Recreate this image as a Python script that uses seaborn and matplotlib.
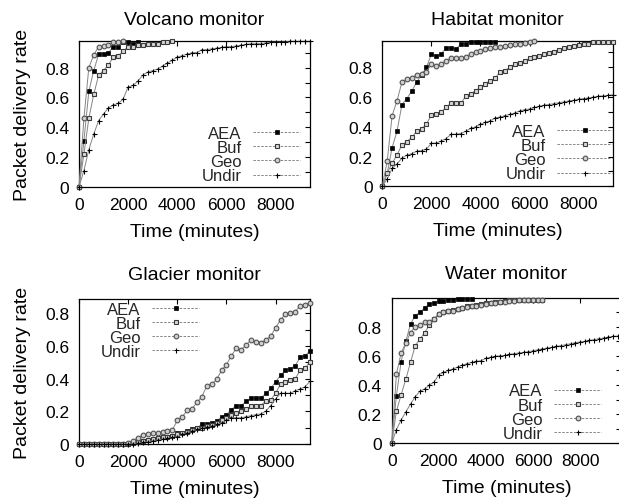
import numpy as np
import matplotlib
matplotlib.use("Agg")
import matplotlib.pyplot as plt
from matplotlib.lines import Line2D
from matplotlib.ticker import MultipleLocator, FuncFormatter
import seaborn as sns

STEP = 200  # minutes between samples

# Volcano monitor
volcano_aea = [0, 0.31, 0.64, 0.78, 0.89, 0.89, 0.90, 0.94, 0.94, 0.97, 0.97, 0.96, 0.97]
volcano_buf = [0, 0.22, 0.46, 0.62, 0.75, 0.78, 0.82, 0.87, 0.88, 0.91, 0.94, 0.94, 0.95,
               0.95, 0.96, 0.96, 0.96, 0.97, 0.97, 0.98]
volcano_geo = [0, 0.46, 0.80, 0.885, 0.94, 0.945, 0.95, 0.97, 0.97, 0.98]
volcano_undir = [0, 0.11, 0.25, 0.355, 0.445, 0.49, 0.53, 0.55, 0.56, 0.59, 0.67, 0.68,
                 0.71, 0.75, 0.77, 0.78, 0.79, 0.81, 0.83, 0.85, 0.87, 0.88, 0.89, 0.90,
                 0.90, 0.92, 0.92, 0.925, 0.93, 0.935, 0.94, 0.94, 0.945, 0.95, 0.955,
                 0.96, 0.96, 0.96, 0.965, 0.97, 0.97, 0.97, 0.97, 0.975, 0.975, 0.975,
                 0.975, 0.975]

# Habitat monitor
habitat_aea = [0, 0.087, 0.26, 0.37, 0.55, 0.59, 0.64, 0.70, 0.75, 0.80, 0.89, 0.875,
               0.89, 0.93, 0.93, 0.925, 0.955, 0.96, 0.97, 0.97, 0.97, 0.97, 0.97, 0.97]
habitat_buf = [0, 0.09, 0.155, 0.21, 0.28, 0.30, 0.33, 0.37, 0.385, 0.42, 0.48, 0.485,
               0.50, 0.53, 0.56, 0.56, 0.56, 0.605, 0.62, 0.643, 0.665, 0.69, 0.71, 0.727,
               0.77, 0.778, 0.80, 0.82, 0.83, 0.845, 0.86, 0.867, 0.878, 0.89, 0.897,
               0.905, 0.917, 0.93, 0.94, 0.945, 0.952, 0.957, 0.96, 0.967, 0.967, 0.97,
               0.97, 0.97]
habitat_geo = [0, 0.17, 0.475, 0.576, 0.70, 0.72, 0.73, 0.75, 0.755, 0.77, 0.82, 0.81,
               0.82, 0.845, 0.86, 0.86, 0.86, 0.87, 0.89, 0.90, 0.91, 0.925, 0.93, 0.94,
               0.94, 0.945, 0.95, 0.955, 0.96, 0.965, 0.97, 0.975]
habitat_undir = [0, 0.05, 0.12, 0.15, 0.19, 0.21, 0.22, 0.235, 0.24, 0.25, 0.29, 0.29,
                 0.305, 0.32, 0.35, 0.35, 0.355, 0.37, 0.39, 0.40, 0.417, 0.43, 0.44,
                 0.46, 0.466, 0.475, 0.484, 0.493, 0.507, 0.516, 0.52, 0.53, 0.538,
                 0.545, 0.55, 0.556, 0.563, 0.567, 0.574, 0.578, 0.585, 0.59, 0.594,
                 0.60, 0.605, 0.608, 0.612, 0.615]

# Glacier monitor
glacier_aea = [0] * 11 + [0.005, 0.01, 0.02, 0.025, 0.03, 0.035, 0.04, 0.045, 0.05,
                          0.065, 0.07, 0.08, 0.09, 0.10, 0.12, 0.12, 0.13, 0.14,
                          0.167, 0.18, 0.21, 0.235, 0.235, 0.26, 0.28, 0.28, 0.28,
                          0.31, 0.34, 0.38, 0.42, 0.45, 0.46, 0.48, 0.53, 0.54, 0.57]
glacier_buf = [0] * 11 + [0.005, 0.015, 0.02, 0.025, 0.03, 0.035, 0.04, 0.045, 0.05,
                          0.06, 0.065, 0.075, 0.085, 0.095, 0.10, 0.11, 0.115, 0.13,
                          0.147, 0.16, 0.175, 0.19, 0.20, 0.215, 0.23, 0.235, 0.235,
                          0.265, 0.27, 0.31, 0.367, 0.38, 0.39, 0.40, 0.45, 0.465, 0.50]
glacier_geo = [0] * 9 + [0.003, 0.005, 0.02, 0.037, 0.057, 0.061, 0.065, 0.07, 0.075,
                         0.08, 0.086, 0.145, 0.165, 0.205, 0.215, 0.255, 0.29, 0.355,
                         0.365, 0.395, 0.45, 0.485, 0.54, 0.585, 0.575, 0.605, 0.635,
                         0.625, 0.62, 0.635, 0.66, 0.71, 0.76, 0.795, 0.80, 0.81, 0.845,
                         0.85, 0.865]
glacier_undir = [0] * 11 + [0.002, 0.005, 0.01, 0.015, 0.02, 0.025, 0.03, 0.035, 0.04,
                            0.045, 0.06, 0.07, 0.08, 0.09, 0.10, 0.105, 0.11, 0.12,
                            0.13, 0.147, 0.16, 0.16, 0.16, 0.167, 0.173, 0.18, 0.184,
                            0.20, 0.235, 0.275, 0.31, 0.31, 0.31, 0.326, 0.337, 0.35,
                            0.384]

# Water monitor
water_aea = [0, 0.327, 0.56, 0.70, 0.82, 0.875, 0.90, 0.93, 0.955, 0.965, 0.975, 0.977,
             0.98, 0.985, 0.99, 0.99, 0.99, 0.99]
water_buf = [0, 0.22, 0.333, 0.44, 0.556, 0.67, 0.716, 0.76, 0.81, 0.853, 0.887, 0.90,
             0.91, 0.915, 0.92, 0.93, 0.94, 0.945, 0.95, 0.955, 0.96, 0.965, 0.97, 0.97,
             0.975, 0.98, 0.98, 0.98, 0.985, 0.985, 0.985, 0.985, 0.985]
water_geo = [0, 0.475, 0.62, 0.69, 0.76, 0.80, 0.81, 0.83, 0.835, 0.85, 0.89, 0.90,
             0.905, 0.91, 0.92, 0.93, 0.935, 0.94, 0.945, 0.95, 0.955, 0.96, 0.965, 0.97,
             0.97, 0.975, 0.975, 0.98, 0.98, 0.98, 0.985, 0.985, 0.985]
water_undir = [0, 0.094, 0.16, 0.215, 0.27, 0.32, 0.357, 0.373, 0.40, 0.42, 0.47, 0.487,
               0.50, 0.51, 0.523, 0.537, 0.546, 0.555, 0.562, 0.567, 0.583, 0.59, 0.597,
               0.60, 0.603, 0.61, 0.615, 0.62, 0.624, 0.628, 0.635, 0.642, 0.647, 0.654,
               0.658, 0.665, 0.67, 0.677, 0.683, 0.69, 0.695, 0.70, 0.706, 0.711, 0.718,
               0.722, 0.729, 0.733, 0.736]

SERIES = ['AEA', 'Buf', 'Geo', 'Undir']
STYLE = {
    'AEA':   dict(marker='s', ms=3.3, mfc='black', mec='black', mew=0.5),
    'Buf':   dict(marker='s', ms=3.4, mfc='#d8d8d8', mec='#3a3a3a', mew=0.8),
    'Geo':   dict(marker='o', ms=3.4, mfc='#d0d0d0', mec='#505050', mew=0.8),
    'Undir': dict(marker='+', ms=3.6, mfc='black', mec='black', mew=0.8),
}
LINE_COLOR = '#858585'

W, H = 619, 502

sns.set_theme(style="white")
plt.rcParams['font.family'] = ['Liberation Sans', 'DejaVu Sans']


def px_rect(left, top, right, bottom):
    return [left / W, 1 - bottom / H, (right - left) / W, (bottom - top) / H]


def draw_panel(fig, rect, title, data, xmax, ymax, title_pad, leg_loc, leg_anchor,
               handlelength=2.8, ylabel=True):
    ax = fig.add_axes(px_rect(*rect))
    for name, values in zip(SERIES, data):
        t = np.arange(len(values)) * STEP
        sns.lineplot(x=t, y=values, ax=ax, color=LINE_COLOR, linewidth=0.7,
                     clip_on=False, zorder=3, legend=False, **STYLE[name])

    ax.set_xlim(0, xmax)
    ax.set_ylim(0, ymax)
    ax.xaxis.set_major_locator(MultipleLocator(2000))
    ax.yaxis.set_major_locator(MultipleLocator(0.2))
    ax.yaxis.set_minor_locator(MultipleLocator(0.1))
    ax.yaxis.set_major_formatter(FuncFormatter(lambda v, p: f"{v:g}"))
    ax.tick_params(which='both', direction='in', top=True, right=True,
                   length=3.5, width=0.8, color='black')
    ax.tick_params(which='major', labelsize=12.5, pad=7, labelcolor='black')
    for sp in ax.spines.values():
        sp.set_color('black')
        sp.set_linewidth(0.9)

    ax.set_title(title, fontsize=14, pad=title_pad, color='black')
    ax.set_xlabel('Time (minutes)', fontsize=14, labelpad=8, color='black')
    if ylabel:
        ax.set_ylabel('Packet delivery rate', fontsize=14, labelpad=10, color='black')

    handles = [Line2D([], [], color=LINE_COLOR, linewidth=0.7, linestyle=(0, (2.5, 1.5)),
                      **STYLE[name]) for name in SERIES]
    ax.legend(handles, SERIES, loc=leg_loc, bbox_to_anchor=leg_anchor, frameon=False,
              markerfirst=False, numpoints=1, handlelength=handlelength,
              handletextpad=0.7, labelspacing=-0.05, borderpad=0, borderaxespad=0,
              fontsize=12)
    return ax


fig = plt.figure(figsize=(W / 100, H / 100), dpi=100)

draw_panel(fig, (79, 42, 310, 188), 'Volcano monitor',
           [volcano_aea, volcano_buf, volcano_geo, volcano_undir],
           9400, 0.978, 12.5, 'lower right', (0.957, 0.025))
draw_panel(fig, (382.3, 42, 613, 187.3), 'Habitat monitor',
           [habitat_aea, habitat_buf, habitat_geo, habitat_undir],
           9400, 0.977, 12.5, 'lower right', (0.996, 0.034),
           handlelength=3.3, ylabel=False)
draw_panel(fig, (79, 300, 310, 445), 'Glacier monitor',
           [glacier_aea, glacier_buf, glacier_geo, glacier_undir],
           9400, 0.887, 14.4, 'upper right', (0.519, 0.981))
draw_panel(fig, (391.7, 299, 621, 444.3), 'Water monitor',
           [water_aea, water_buf, water_geo, water_undir],
           9740, 0.997, 14.2, 'lower right', (0.913, 0.016), ylabel=False)

fig.savefig('out.png', dpi=100)
